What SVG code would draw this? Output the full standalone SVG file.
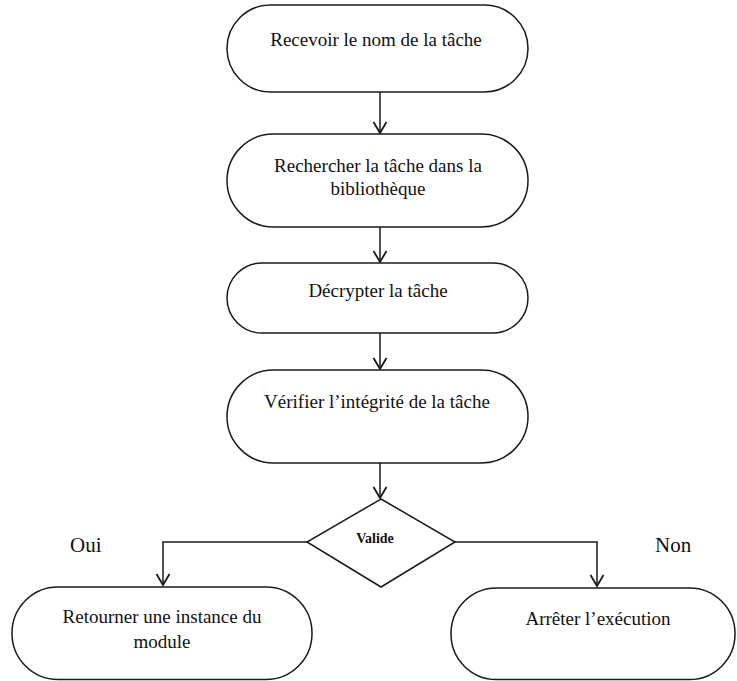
<svg xmlns="http://www.w3.org/2000/svg" width="737" height="681" viewBox="0 0 737 681">
  <style>
    .box { fill: #ffffff; stroke: #1a1a1a; stroke-width: 1.5; }
    .lbl { font-family: "Liberation Serif", "Times New Roman", serif; font-size: 19px; fill: #111111; text-anchor: middle; }
    .side { font-family: "Liberation Serif", "Times New Roman", serif; font-size: 21px; fill: #111111; }
    .cond { font-family: "Liberation Serif", "Times New Roman", serif; font-size: 14px; font-weight: bold; fill: #111111; text-anchor: middle; }
    .link { fill: none; stroke: #1a1a1a; stroke-width: 1.5; marker-end: url(#arrow); }
  </style>
  <defs>
    <marker id="arrow" markerUnits="userSpaceOnUse" markerWidth="20" markerHeight="20" refX="0" refY="0" orient="auto" overflow="visible">
      <path d="M-11,-6.5 L0,0 L-11,6.5" fill="none" stroke="#1a1a1a" stroke-width="1.8"/>
    </marker>
  </defs>
  <rect width="737" height="681" fill="#ffffff"/>

  <g id="connectors">
    <path class="link" d="M380,92 V133"/>
    <path class="link" d="M380,227 V262"/>
    <path class="link" d="M380,333 V369"/>
    <path class="link" d="M380,463 V498"/>
    <path class="link" d="M307,542 H163 V585"/>
    <path class="link" d="M455,542 H597 V586"/>
  </g>

  <g id="receive">
    <rect class="box" x="227" y="5" width="301" height="87" rx="43.5"/>
    <text class="lbl" x="376" y="46">Recevoir le nom de la tâche</text>
  </g>

  <g id="search">
    <rect class="box" x="227" y="134" width="301" height="93" rx="46.5"/>
    <text class="lbl" x="378" y="172">Rechercher la tâche dans la</text>
    <text class="lbl" x="378" y="195">bibliothèque</text>
  </g>

  <g id="decrypt">
    <rect class="box" x="227" y="263" width="301" height="70" rx="35"/>
    <text class="lbl" x="378" y="297">Décrypter la tâche</text>
  </g>

  <g id="verify">
    <rect class="box" x="227" y="370" width="301" height="93" rx="46.5"/>
    <text class="lbl" x="377" y="408">Vérifier l’intégrité de la tâche</text>
  </g>

  <g id="valid">
    <polygon class="box" points="381,499 455,542 381,587 307,542"/>
    <text class="cond" x="375" y="543">Valide</text>
  </g>

  <text class="side" x="70" y="552">Oui</text>
  <text class="side" x="655" y="552">Non</text>

  <g id="return-instance">
    <rect class="box" x="12" y="587" width="300" height="92.5" rx="46"/>
    <text class="lbl" x="162" y="623">Retourner une instance du</text>
    <text class="lbl" x="162" y="648">module</text>
  </g>

  <g id="stop">
    <rect class="box" x="451" y="588" width="284" height="91.5" rx="45.5"/>
    <text class="lbl" x="598" y="625">Arrêter l’exécution</text>
  </g>
</svg>
